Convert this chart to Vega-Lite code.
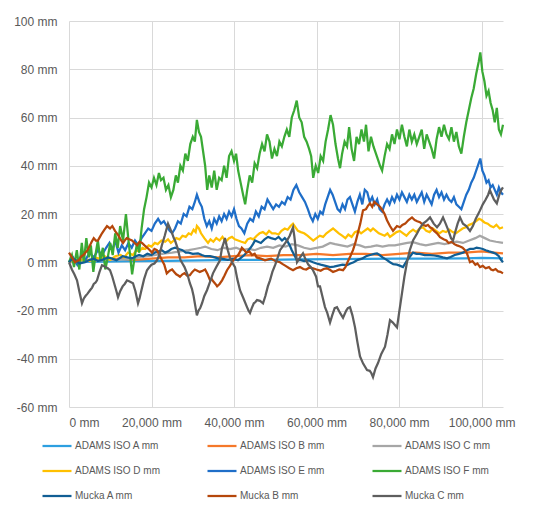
{
  "$schema": "https://vega.github.io/schema/vega-lite/v6.json",
  "width": 434,
  "height": 386,
  "autosize": {"type": "none"},
  "padding": {"left": 69, "top": 21, "right": 47, "bottom": 115},
  "background": "white",
  "config": {
    "view": {"stroke": null},
    "axis": {
      "grid": true,
      "gridColor": "#D9D9D9",
      "gridWidth": 1,
      "domain": false,
      "ticks": false,
      "labelFont": "Liberation Sans",
      "labelFontSize": 12,
      "labelColor": "#595959",
      "title": null
    },
    "line": {"strokeWidth": 2.25}
  },
  "datasets": {
    "isoA": [
      {"x": 0, "y": 0}, {"x": 8000, "y": 0.3}, {"x": 16000, "y": 0.5}, {"x": 24000, "y": 0.6},
      {"x": 32000, "y": 0.8}, {"x": 40000, "y": 1}, {"x": 48000, "y": 1}, {"x": 56000, "y": 1.2},
      {"x": 64000, "y": 1.3}, {"x": 72000, "y": 1.4}, {"x": 80000, "y": 1.5}, {"x": 88000, "y": 1.5},
      {"x": 96000, "y": 1.6}, {"x": 100000, "y": 1.8}, {"x": 105200, "y": 1.6}
    ],
    "isoB": [
      {"x": 0, "y": 0.5}, {"x": 4000, "y": 1}, {"x": 8000, "y": 1}, {"x": 12000, "y": 1.5},
      {"x": 16000, "y": 1}, {"x": 20000, "y": 1.5}, {"x": 24000, "y": 2}, {"x": 28000, "y": 2},
      {"x": 32000, "y": 2.5}, {"x": 36000, "y": 2}, {"x": 40000, "y": 2.5}, {"x": 44000, "y": 3},
      {"x": 48000, "y": 2.5}, {"x": 52000, "y": 3}, {"x": 56000, "y": 3}, {"x": 60000, "y": 3.5},
      {"x": 64000, "y": 3}, {"x": 68000, "y": 3.5}, {"x": 72000, "y": 3.5}, {"x": 76000, "y": 3},
      {"x": 80000, "y": 3.5}, {"x": 84000, "y": 4}, {"x": 88000, "y": 3.5}, {"x": 92000, "y": 4},
      {"x": 96000, "y": 4}, {"x": 100000, "y": 4.5}, {"x": 103000, "y": 4}, {"x": 105200, "y": 3.7}
    ],
    "isoC": [
      {"x": 0, "y": 0}, {"x": 3000, "y": 0.5}, {"x": 6000, "y": 0.5}, {"x": 9000, "y": 1},
      {"x": 12000, "y": 1}, {"x": 15000, "y": 1.5}, {"x": 17000, "y": 2}, {"x": 19000, "y": 2.5},
      {"x": 21000, "y": 3}, {"x": 23300, "y": 3.7}, {"x": 25000, "y": 4}, {"x": 27000, "y": 4.5},
      {"x": 29000, "y": 5}, {"x": 30500, "y": 5.5}, {"x": 32000, "y": 6}, {"x": 33000, "y": 6.5},
      {"x": 34500, "y": 5.5}, {"x": 36000, "y": 5}, {"x": 37500, "y": 6}, {"x": 39000, "y": 5.5},
      {"x": 40500, "y": 6}, {"x": 42000, "y": 5}, {"x": 43500, "y": 5.5}, {"x": 45000, "y": 5},
      {"x": 46500, "y": 6}, {"x": 48000, "y": 6.5}, {"x": 49500, "y": 6}, {"x": 51000, "y": 7},
      {"x": 52500, "y": 6.5}, {"x": 54000, "y": 7.5}, {"x": 55500, "y": 7}, {"x": 57000, "y": 6},
      {"x": 58500, "y": 5.5}, {"x": 60000, "y": 6}, {"x": 61500, "y": 6.5}, {"x": 63300, "y": 8},
      {"x": 64500, "y": 7.5}, {"x": 66000, "y": 7}, {"x": 67500, "y": 6.5}, {"x": 69000, "y": 7.5},
      {"x": 70500, "y": 7}, {"x": 71800, "y": 6.2}, {"x": 73200, "y": 6.5}, {"x": 74600, "y": 7},
      {"x": 76000, "y": 6.5}, {"x": 77500, "y": 7}, {"x": 79000, "y": 7}, {"x": 80500, "y": 7.5},
      {"x": 82000, "y": 8}, {"x": 83400, "y": 8.3}, {"x": 85000, "y": 7.5}, {"x": 86500, "y": 7},
      {"x": 88000, "y": 7.5}, {"x": 89500, "y": 8}, {"x": 91000, "y": 7.5}, {"x": 92500, "y": 8},
      {"x": 94000, "y": 8.5}, {"x": 95500, "y": 8}, {"x": 97000, "y": 9}, {"x": 98500, "y": 10},
      {"x": 99600, "y": 11}, {"x": 100800, "y": 10}, {"x": 102000, "y": 9}, {"x": 103500, "y": 8.5},
      {"x": 105200, "y": 8}
    ],
    "isoD": [
      {"x": 0, "y": 0}, {"x": 1200, "y": 1}, {"x": 2500, "y": 0.5}, {"x": 3700, "y": 1.5},
      {"x": 5000, "y": 0.5}, {"x": 6200, "y": 2}, {"x": 7500, "y": 1.5}, {"x": 8700, "y": 2.5},
      {"x": 10000, "y": 1}, {"x": 11200, "y": 2.5}, {"x": 12500, "y": 3}, {"x": 13400, "y": 2},
      {"x": 14300, "y": 4}, {"x": 15500, "y": 3}, {"x": 16300, "y": 5}, {"x": 17000, "y": 4.5},
      {"x": 17800, "y": 6}, {"x": 18500, "y": 5.5}, {"x": 19300, "y": 7}, {"x": 20000, "y": 6.5},
      {"x": 20800, "y": 8}, {"x": 21500, "y": 7.5}, {"x": 22400, "y": 9}, {"x": 23300, "y": 8.5},
      {"x": 24000, "y": 9.5}, {"x": 24700, "y": 8}, {"x": 25400, "y": 9}, {"x": 26000, "y": 10},
      {"x": 26800, "y": 9.5}, {"x": 27500, "y": 11}, {"x": 28300, "y": 10.5}, {"x": 29000, "y": 12},
      {"x": 29600, "y": 11.5}, {"x": 30200, "y": 13.5}, {"x": 30700, "y": 12.5}, {"x": 31000, "y": 15},
      {"x": 31500, "y": 14}, {"x": 32000, "y": 12}, {"x": 32800, "y": 10}, {"x": 33700, "y": 8},
      {"x": 34300, "y": 9.5}, {"x": 35000, "y": 8.5}, {"x": 35700, "y": 10}, {"x": 36500, "y": 9},
      {"x": 37200, "y": 10.5}, {"x": 38000, "y": 8.5}, {"x": 38800, "y": 10}, {"x": 39500, "y": 10.5},
      {"x": 40200, "y": 9.5}, {"x": 41000, "y": 9}, {"x": 41800, "y": 8.5}, {"x": 42700, "y": 8},
      {"x": 43300, "y": 9.5}, {"x": 44000, "y": 10}, {"x": 44700, "y": 9.5}, {"x": 45500, "y": 11},
      {"x": 46200, "y": 12}, {"x": 47000, "y": 12.5}, {"x": 47800, "y": 11.5}, {"x": 48500, "y": 13},
      {"x": 49200, "y": 12}, {"x": 50000, "y": 12}, {"x": 50800, "y": 11.5}, {"x": 51500, "y": 13},
      {"x": 52300, "y": 14}, {"x": 53000, "y": 13.5}, {"x": 53700, "y": 15}, {"x": 54300, "y": 16},
      {"x": 54900, "y": 14.5}, {"x": 55500, "y": 13}, {"x": 56200, "y": 12.5}, {"x": 57000, "y": 12},
      {"x": 57800, "y": 11}, {"x": 58500, "y": 10}, {"x": 59200, "y": 9}, {"x": 60000, "y": 10},
      {"x": 60800, "y": 11}, {"x": 61600, "y": 10.5}, {"x": 62400, "y": 12}, {"x": 63200, "y": 13},
      {"x": 64000, "y": 14}, {"x": 64700, "y": 13}, {"x": 65400, "y": 12}, {"x": 66200, "y": 11},
      {"x": 67000, "y": 10}, {"x": 67700, "y": 11.5}, {"x": 68500, "y": 10.5}, {"x": 69300, "y": 12.5},
      {"x": 70100, "y": 13}, {"x": 70800, "y": 12}, {"x": 71600, "y": 13}, {"x": 72400, "y": 14},
      {"x": 73100, "y": 13}, {"x": 73700, "y": 14}, {"x": 74400, "y": 13}, {"x": 75100, "y": 12},
      {"x": 75800, "y": 11.5}, {"x": 76500, "y": 11}, {"x": 77200, "y": 12}, {"x": 77800, "y": 10.5},
      {"x": 78600, "y": 11.5}, {"x": 79400, "y": 12.5}, {"x": 80200, "y": 13}, {"x": 81000, "y": 12},
      {"x": 81800, "y": 11}, {"x": 82600, "y": 12.5}, {"x": 83400, "y": 13.5}, {"x": 84200, "y": 12.5},
      {"x": 85000, "y": 14}, {"x": 85800, "y": 14.5}, {"x": 86600, "y": 13}, {"x": 87400, "y": 12.5},
      {"x": 88200, "y": 14}, {"x": 89000, "y": 13}, {"x": 89800, "y": 12}, {"x": 90600, "y": 13},
      {"x": 91400, "y": 12.5}, {"x": 92200, "y": 13.5}, {"x": 93000, "y": 12.5}, {"x": 93800, "y": 12},
      {"x": 94600, "y": 13}, {"x": 95400, "y": 14}, {"x": 96200, "y": 14.5}, {"x": 97000, "y": 15.5},
      {"x": 97800, "y": 16}, {"x": 98600, "y": 17}, {"x": 99400, "y": 18}, {"x": 100000, "y": 17.5},
      {"x": 100700, "y": 16.5}, {"x": 101500, "y": 16}, {"x": 102200, "y": 15}, {"x": 102900, "y": 14.5},
      {"x": 103600, "y": 15.5}, {"x": 104400, "y": 14}, {"x": 105200, "y": 14.5}
    ],
    "isoE": [
      {"x": 0, "y": 0}, {"x": 1000, "y": 2}, {"x": 2000, "y": -1}, {"x": 3000, "y": 3},
      {"x": 4000, "y": 1}, {"x": 5000, "y": 4}, {"x": 6000, "y": 2}, {"x": 7000, "y": 5},
      {"x": 8000, "y": 3}, {"x": 9000, "y": 6}, {"x": 9800, "y": 8}, {"x": 10500, "y": 5},
      {"x": 11200, "y": 9}, {"x": 12000, "y": 4}, {"x": 12800, "y": 7}, {"x": 13600, "y": 5},
      {"x": 14400, "y": 8}, {"x": 15200, "y": 6}, {"x": 16000, "y": 9}, {"x": 16800, "y": 7},
      {"x": 17600, "y": 10}, {"x": 18400, "y": 12}, {"x": 19200, "y": 14}, {"x": 20000, "y": 13},
      {"x": 20800, "y": 16}, {"x": 21600, "y": 18}, {"x": 22300, "y": 16}, {"x": 23000, "y": 17},
      {"x": 23700, "y": 15}, {"x": 24400, "y": 13}, {"x": 25000, "y": 12}, {"x": 25700, "y": 14},
      {"x": 26400, "y": 17}, {"x": 27100, "y": 16}, {"x": 27800, "y": 20}, {"x": 28500, "y": 19},
      {"x": 29200, "y": 23}, {"x": 29900, "y": 22}, {"x": 30500, "y": 25}, {"x": 31000, "y": 28},
      {"x": 31600, "y": 25}, {"x": 32200, "y": 23}, {"x": 32800, "y": 18}, {"x": 33400, "y": 15},
      {"x": 34000, "y": 17}, {"x": 34600, "y": 14}, {"x": 35200, "y": 18}, {"x": 35800, "y": 16},
      {"x": 36400, "y": 19}, {"x": 37000, "y": 17}, {"x": 37600, "y": 20}, {"x": 38200, "y": 18},
      {"x": 38800, "y": 21}, {"x": 39400, "y": 19}, {"x": 40000, "y": 22}, {"x": 40600, "y": 18},
      {"x": 41200, "y": 15}, {"x": 41800, "y": 14}, {"x": 42500, "y": 12}, {"x": 43200, "y": 16},
      {"x": 43900, "y": 18}, {"x": 44600, "y": 17}, {"x": 45300, "y": 21}, {"x": 46000, "y": 19},
      {"x": 46700, "y": 23}, {"x": 47400, "y": 22}, {"x": 48100, "y": 26}, {"x": 48800, "y": 24},
      {"x": 49500, "y": 22}, {"x": 50200, "y": 24}, {"x": 50900, "y": 23}, {"x": 51600, "y": 25},
      {"x": 52300, "y": 24}, {"x": 53000, "y": 27}, {"x": 53700, "y": 26}, {"x": 54400, "y": 30},
      {"x": 55100, "y": 32}, {"x": 55800, "y": 29}, {"x": 56500, "y": 27}, {"x": 57200, "y": 25},
      {"x": 57900, "y": 22}, {"x": 58500, "y": 19}, {"x": 59100, "y": 17}, {"x": 59700, "y": 20},
      {"x": 60300, "y": 18}, {"x": 60900, "y": 21}, {"x": 61500, "y": 20}, {"x": 62100, "y": 24},
      {"x": 62700, "y": 27}, {"x": 63300, "y": 30}, {"x": 63900, "y": 28}, {"x": 64500, "y": 25},
      {"x": 65100, "y": 22}, {"x": 65700, "y": 21}, {"x": 66300, "y": 24}, {"x": 66900, "y": 22},
      {"x": 67500, "y": 26}, {"x": 68100, "y": 27}, {"x": 68700, "y": 24}, {"x": 69300, "y": 21},
      {"x": 69900, "y": 25}, {"x": 70500, "y": 28}, {"x": 71100, "y": 24}, {"x": 71700, "y": 30},
      {"x": 72300, "y": 29}, {"x": 72900, "y": 25}, {"x": 73500, "y": 27}, {"x": 74100, "y": 24},
      {"x": 74700, "y": 26}, {"x": 75300, "y": 22}, {"x": 75900, "y": 21}, {"x": 76500, "y": 24},
      {"x": 77100, "y": 26}, {"x": 77700, "y": 24}, {"x": 78300, "y": 27}, {"x": 78900, "y": 25},
      {"x": 79500, "y": 28}, {"x": 80100, "y": 26}, {"x": 80700, "y": 29}, {"x": 81300, "y": 27},
      {"x": 81900, "y": 25}, {"x": 82500, "y": 28}, {"x": 83100, "y": 26}, {"x": 83700, "y": 28},
      {"x": 84300, "y": 25}, {"x": 84900, "y": 27}, {"x": 85500, "y": 29}, {"x": 86100, "y": 25},
      {"x": 86700, "y": 28}, {"x": 87300, "y": 26}, {"x": 87900, "y": 24}, {"x": 88500, "y": 28},
      {"x": 89100, "y": 30}, {"x": 89700, "y": 27}, {"x": 90300, "y": 29}, {"x": 90900, "y": 26},
      {"x": 91500, "y": 28}, {"x": 92100, "y": 26}, {"x": 92700, "y": 25}, {"x": 93300, "y": 27},
      {"x": 93900, "y": 24}, {"x": 94500, "y": 23}, {"x": 95100, "y": 22}, {"x": 95700, "y": 25},
      {"x": 96300, "y": 28}, {"x": 96900, "y": 30}, {"x": 97500, "y": 33}, {"x": 98100, "y": 35},
      {"x": 98700, "y": 38}, {"x": 99300, "y": 41}, {"x": 99700, "y": 43}, {"x": 100200, "y": 38},
      {"x": 100700, "y": 36}, {"x": 101200, "y": 33}, {"x": 101700, "y": 34}, {"x": 102200, "y": 31},
      {"x": 102700, "y": 32}, {"x": 103200, "y": 30}, {"x": 103700, "y": 28}, {"x": 104200, "y": 31},
      {"x": 104700, "y": 29}, {"x": 105200, "y": 28}
    ],
    "isoF": [
      {"x": 0, "y": 0}, {"x": 700, "y": 3}, {"x": 1200, "y": -2}, {"x": 1900, "y": 5},
      {"x": 2500, "y": -3}, {"x": 3100, "y": 8}, {"x": 3600, "y": 0}, {"x": 4200, "y": 10},
      {"x": 4800, "y": 2}, {"x": 5300, "y": 7}, {"x": 5900, "y": -4}, {"x": 6500, "y": 4},
      {"x": 7000, "y": 9}, {"x": 7600, "y": 1}, {"x": 8200, "y": 6}, {"x": 8800, "y": -3},
      {"x": 9400, "y": 2}, {"x": 10000, "y": 8}, {"x": 10600, "y": 3}, {"x": 11200, "y": 12},
      {"x": 11800, "y": 6}, {"x": 12400, "y": 15}, {"x": 13100, "y": 9}, {"x": 13800, "y": 20},
      {"x": 14300, "y": 11}, {"x": 14800, "y": 3}, {"x": 15300, "y": -5}, {"x": 15900, "y": 2},
      {"x": 16500, "y": 8}, {"x": 17000, "y": 4}, {"x": 17600, "y": 14}, {"x": 18200, "y": 22},
      {"x": 18800, "y": 27}, {"x": 19400, "y": 33}, {"x": 20000, "y": 31}, {"x": 20600, "y": 35},
      {"x": 21200, "y": 32}, {"x": 21800, "y": 37}, {"x": 22300, "y": 34}, {"x": 22900, "y": 35},
      {"x": 23500, "y": 30}, {"x": 24100, "y": 32}, {"x": 24700, "y": 27}, {"x": 25300, "y": 30},
      {"x": 25900, "y": 36}, {"x": 26400, "y": 33}, {"x": 27000, "y": 40}, {"x": 27600, "y": 38},
      {"x": 28200, "y": 45}, {"x": 28800, "y": 42}, {"x": 29400, "y": 49}, {"x": 30000, "y": 52},
      {"x": 30500, "y": 50}, {"x": 31000, "y": 59}, {"x": 31500, "y": 54}, {"x": 32000, "y": 52},
      {"x": 32500, "y": 46}, {"x": 33000, "y": 40}, {"x": 33500, "y": 30}, {"x": 34000, "y": 36},
      {"x": 34600, "y": 31}, {"x": 35200, "y": 38}, {"x": 35800, "y": 30}, {"x": 36400, "y": 35},
      {"x": 37000, "y": 34}, {"x": 37600, "y": 40}, {"x": 38200, "y": 35}, {"x": 38800, "y": 44},
      {"x": 39400, "y": 46}, {"x": 40000, "y": 42}, {"x": 40500, "y": 45}, {"x": 41000, "y": 38},
      {"x": 41600, "y": 33}, {"x": 42200, "y": 28}, {"x": 42700, "y": 24}, {"x": 43200, "y": 30},
      {"x": 43800, "y": 36}, {"x": 44400, "y": 33}, {"x": 45000, "y": 41}, {"x": 45600, "y": 39},
      {"x": 46200, "y": 45}, {"x": 46800, "y": 49}, {"x": 47400, "y": 46}, {"x": 48000, "y": 53},
      {"x": 48600, "y": 50}, {"x": 49200, "y": 43}, {"x": 49800, "y": 47}, {"x": 50400, "y": 44},
      {"x": 51000, "y": 50}, {"x": 51600, "y": 48}, {"x": 52200, "y": 52}, {"x": 52800, "y": 55},
      {"x": 53400, "y": 52}, {"x": 54000, "y": 60}, {"x": 54600, "y": 63}, {"x": 55200, "y": 67},
      {"x": 55800, "y": 60}, {"x": 56400, "y": 58}, {"x": 57000, "y": 52}, {"x": 57600, "y": 50},
      {"x": 58200, "y": 47}, {"x": 58700, "y": 44}, {"x": 59200, "y": 35}, {"x": 59800, "y": 40},
      {"x": 60400, "y": 37}, {"x": 61000, "y": 44}, {"x": 61600, "y": 42}, {"x": 62200, "y": 50},
      {"x": 62800, "y": 55}, {"x": 63400, "y": 61}, {"x": 64000, "y": 57}, {"x": 64600, "y": 49},
      {"x": 65200, "y": 43}, {"x": 65700, "y": 39}, {"x": 66200, "y": 45}, {"x": 66800, "y": 50},
      {"x": 67400, "y": 48}, {"x": 67900, "y": 56}, {"x": 68500, "y": 47}, {"x": 69100, "y": 42},
      {"x": 69700, "y": 52}, {"x": 70300, "y": 49}, {"x": 70900, "y": 55}, {"x": 71500, "y": 50},
      {"x": 72000, "y": 57}, {"x": 72600, "y": 46}, {"x": 73200, "y": 52}, {"x": 73800, "y": 48},
      {"x": 74400, "y": 45}, {"x": 75000, "y": 42}, {"x": 75400, "y": 40}, {"x": 75900, "y": 38},
      {"x": 76500, "y": 44}, {"x": 77100, "y": 49}, {"x": 77700, "y": 47}, {"x": 78300, "y": 53},
      {"x": 78900, "y": 49}, {"x": 79500, "y": 55}, {"x": 80100, "y": 51}, {"x": 80700, "y": 57},
      {"x": 81300, "y": 52}, {"x": 81900, "y": 48}, {"x": 82500, "y": 55}, {"x": 83100, "y": 50},
      {"x": 83700, "y": 53}, {"x": 84300, "y": 49}, {"x": 84900, "y": 52}, {"x": 85500, "y": 55},
      {"x": 86100, "y": 47}, {"x": 86700, "y": 53}, {"x": 87300, "y": 50}, {"x": 87900, "y": 47},
      {"x": 88500, "y": 43}, {"x": 89100, "y": 51}, {"x": 89700, "y": 56}, {"x": 90300, "y": 52},
      {"x": 90900, "y": 57}, {"x": 91500, "y": 53}, {"x": 92100, "y": 51}, {"x": 92700, "y": 56},
      {"x": 93300, "y": 50}, {"x": 93900, "y": 54}, {"x": 94500, "y": 48}, {"x": 95100, "y": 45},
      {"x": 95700, "y": 52}, {"x": 96300, "y": 58}, {"x": 96900, "y": 63}, {"x": 97500, "y": 68},
      {"x": 98100, "y": 72}, {"x": 98700, "y": 78}, {"x": 99300, "y": 83}, {"x": 99700, "y": 87},
      {"x": 100200, "y": 79}, {"x": 100700, "y": 75}, {"x": 101200, "y": 69}, {"x": 101700, "y": 71},
      {"x": 102200, "y": 66}, {"x": 102700, "y": 63}, {"x": 103200, "y": 58}, {"x": 103700, "y": 64},
      {"x": 104200, "y": 55}, {"x": 104700, "y": 53}, {"x": 105200, "y": 57}
    ],
    "muckaA": [
      {"x": 0, "y": 0}, {"x": 800, "y": 1.5}, {"x": 1500, "y": 1}, {"x": 2500, "y": -0.5},
      {"x": 3900, "y": 0}, {"x": 5000, "y": 1}, {"x": 6000, "y": 1.5}, {"x": 7000, "y": 0.5},
      {"x": 8000, "y": 1}, {"x": 9450, "y": 2}, {"x": 10500, "y": 1.5}, {"x": 11500, "y": 0.8},
      {"x": 13000, "y": 2.5}, {"x": 14200, "y": 2}, {"x": 15270, "y": 1.6}, {"x": 16200, "y": 2.5},
      {"x": 17000, "y": 3}, {"x": 18000, "y": 2.5}, {"x": 19000, "y": 3.5}, {"x": 20000, "y": 3},
      {"x": 20800, "y": 4}, {"x": 21700, "y": 4.5}, {"x": 22500, "y": 5}, {"x": 23300, "y": 4},
      {"x": 24000, "y": 4.5}, {"x": 24800, "y": 5.5}, {"x": 25700, "y": 6}, {"x": 26600, "y": 5.5},
      {"x": 27500, "y": 5}, {"x": 28300, "y": 4}, {"x": 29000, "y": 4}, {"x": 30000, "y": 3.5},
      {"x": 31270, "y": 3.7}, {"x": 32200, "y": 3}, {"x": 33000, "y": 2.5}, {"x": 34200, "y": 2.5},
      {"x": 35390, "y": 2}, {"x": 36200, "y": 1.5}, {"x": 37000, "y": 1.5}, {"x": 38500, "y": 1},
      {"x": 39800, "y": 1.5}, {"x": 40970, "y": 0.8}, {"x": 41800, "y": 2}, {"x": 42500, "y": 3},
      {"x": 43300, "y": 4.5}, {"x": 44000, "y": 6}, {"x": 44600, "y": 7.5}, {"x": 45090, "y": 9},
      {"x": 45800, "y": 8.5}, {"x": 46500, "y": 8}, {"x": 47400, "y": 9.5}, {"x": 48240, "y": 10.5},
      {"x": 49000, "y": 10}, {"x": 50000, "y": 9.5}, {"x": 50800, "y": 10.5}, {"x": 51630, "y": 9},
      {"x": 52300, "y": 10}, {"x": 52840, "y": 9}, {"x": 53500, "y": 7}, {"x": 54000, "y": 5},
      {"x": 54600, "y": 3}, {"x": 55270, "y": 0.8}, {"x": 56000, "y": 1}, {"x": 57000, "y": 0.5},
      {"x": 58000, "y": 0.8}, {"x": 59150, "y": 0}, {"x": 60000, "y": -0.5}, {"x": 61000, "y": -1},
      {"x": 62200, "y": -1.5}, {"x": 63270, "y": -2}, {"x": 64200, "y": -1.8}, {"x": 65000, "y": -1.5},
      {"x": 66300, "y": -1}, {"x": 67390, "y": -1.2}, {"x": 68200, "y": -0.5}, {"x": 69000, "y": 0},
      {"x": 70000, "y": 1}, {"x": 71000, "y": 1.5}, {"x": 72000, "y": 2.5}, {"x": 73000, "y": 3},
      {"x": 74000, "y": 3.5}, {"x": 74660, "y": 3.7}, {"x": 75300, "y": 3}, {"x": 76000, "y": 2},
      {"x": 77000, "y": 1}, {"x": 77810, "y": 0}, {"x": 78600, "y": -0.8}, {"x": 79500, "y": -1},
      {"x": 80300, "y": -1.5}, {"x": 80960, "y": -2}, {"x": 81500, "y": -0.5}, {"x": 82000, "y": 1},
      {"x": 82700, "y": 2.5}, {"x": 83390, "y": 4}, {"x": 84200, "y": 3.5}, {"x": 85000, "y": 3.5},
      {"x": 86200, "y": 3}, {"x": 87510, "y": 3}, {"x": 88500, "y": 2.8}, {"x": 89500, "y": 2.5},
      {"x": 90600, "y": 2}, {"x": 91630, "y": 1.6}, {"x": 92500, "y": 2.2}, {"x": 93500, "y": 3},
      {"x": 94500, "y": 3.5}, {"x": 95500, "y": 4}, {"x": 96480, "y": 5}, {"x": 97200, "y": 5.5},
      {"x": 98000, "y": 5.5}, {"x": 98800, "y": 6}, {"x": 99630, "y": 5.8}, {"x": 100300, "y": 5.5},
      {"x": 101000, "y": 5}, {"x": 101800, "y": 4.5}, {"x": 102800, "y": 4}, {"x": 103500, "y": 3.5},
      {"x": 104200, "y": 2.5}, {"x": 104700, "y": 1}, {"x": 105200, "y": 0}
    ],
    "muckaB": [
      {"x": 0, "y": 4}, {"x": 700, "y": 2}, {"x": 1450, "y": 0}, {"x": 2000, "y": 0.5},
      {"x": 2500, "y": 1}, {"x": 3000, "y": 2.5}, {"x": 3500, "y": 3}, {"x": 4000, "y": 4},
      {"x": 4500, "y": 5}, {"x": 5090, "y": 7}, {"x": 5500, "y": 8.5}, {"x": 6000, "y": 10},
      {"x": 6500, "y": 9}, {"x": 7000, "y": 9}, {"x": 7500, "y": 10.5}, {"x": 8000, "y": 12},
      {"x": 8600, "y": 13.5}, {"x": 9210, "y": 15}, {"x": 9940, "y": 14}, {"x": 10500, "y": 15},
      {"x": 11150, "y": 13}, {"x": 11600, "y": 12}, {"x": 12000, "y": 11}, {"x": 12500, "y": 9.5},
      {"x": 13090, "y": 8}, {"x": 13500, "y": 9}, {"x": 14000, "y": 10}, {"x": 14600, "y": 9.5},
      {"x": 15270, "y": 9}, {"x": 15900, "y": 8}, {"x": 16500, "y": 7}, {"x": 17100, "y": 8.5},
      {"x": 17700, "y": 8}, {"x": 18300, "y": 7}, {"x": 19000, "y": 6}, {"x": 19600, "y": 5},
      {"x": 20120, "y": 4}, {"x": 20700, "y": 5.5}, {"x": 21300, "y": 5}, {"x": 21900, "y": 3},
      {"x": 22540, "y": 0.8}, {"x": 23100, "y": -1}, {"x": 23700, "y": -4.6}, {"x": 24400, "y": -3.5},
      {"x": 25000, "y": -3}, {"x": 25500, "y": -4}, {"x": 26000, "y": -5}, {"x": 26500, "y": -5.5},
      {"x": 26900, "y": -6}, {"x": 27500, "y": -5}, {"x": 28000, "y": -4.5}, {"x": 28600, "y": -5.5},
      {"x": 29300, "y": -5.4}, {"x": 29900, "y": -4}, {"x": 30500, "y": -3}, {"x": 31100, "y": -3.5},
      {"x": 31700, "y": -4}, {"x": 32400, "y": -3.5}, {"x": 33000, "y": -3}, {"x": 33600, "y": -5},
      {"x": 34200, "y": -7.5}, {"x": 34600, "y": -7}, {"x": 35000, "y": -8}, {"x": 35500, "y": -9},
      {"x": 35900, "y": -10}, {"x": 36500, "y": -9}, {"x": 37100, "y": -7.5}, {"x": 37700, "y": -5.5},
      {"x": 38300, "y": -3.3}, {"x": 39000, "y": -1.5}, {"x": 39800, "y": 0.8}, {"x": 40400, "y": 2},
      {"x": 41000, "y": 3}, {"x": 41500, "y": 4.5}, {"x": 41900, "y": 6}, {"x": 42500, "y": 5},
      {"x": 43000, "y": 4}, {"x": 43700, "y": 4.5}, {"x": 44360, "y": 3}, {"x": 45000, "y": 3.5},
      {"x": 45500, "y": 2}, {"x": 46500, "y": 1.5}, {"x": 47510, "y": 0.8}, {"x": 48300, "y": 1.2},
      {"x": 49000, "y": 1.5}, {"x": 50000, "y": 0.5}, {"x": 51150, "y": 0}, {"x": 51800, "y": -0.8},
      {"x": 52500, "y": -1.5}, {"x": 53400, "y": -2.5}, {"x": 54300, "y": -3.3}, {"x": 55100, "y": -2.5},
      {"x": 56000, "y": -2}, {"x": 56800, "y": -2.8}, {"x": 57500, "y": -3}, {"x": 58300, "y": -2.2},
      {"x": 59150, "y": -2.5}, {"x": 60000, "y": -3}, {"x": 61000, "y": -3.5}, {"x": 61700, "y": -2.8},
      {"x": 62500, "y": -2.5}, {"x": 63300, "y": -3.2}, {"x": 64000, "y": -4}, {"x": 64800, "y": -3.5},
      {"x": 65500, "y": -3}, {"x": 66420, "y": -3.3}, {"x": 67000, "y": -2}, {"x": 67500, "y": 0},
      {"x": 68200, "y": 2.5}, {"x": 68840, "y": 5}, {"x": 69400, "y": 8}, {"x": 70000, "y": 12},
      {"x": 70600, "y": 16}, {"x": 71270, "y": 21.5}, {"x": 72000, "y": 22}, {"x": 72500, "y": 23.5},
      {"x": 72960, "y": 24.4}, {"x": 73500, "y": 23}, {"x": 74000, "y": 25}, {"x": 74700, "y": 24},
      {"x": 75390, "y": 23}, {"x": 76000, "y": 21.5}, {"x": 76500, "y": 20}, {"x": 77080, "y": 17.4},
      {"x": 77800, "y": 15}, {"x": 78540, "y": 13}, {"x": 79000, "y": 14}, {"x": 79500, "y": 15},
      {"x": 80230, "y": 14.5}, {"x": 80800, "y": 15.5}, {"x": 81500, "y": 16}, {"x": 82300, "y": 17.5},
      {"x": 83140, "y": 18.6}, {"x": 83800, "y": 17.5}, {"x": 84400, "y": 17}, {"x": 85080, "y": 16.6},
      {"x": 85800, "y": 15.5}, {"x": 86500, "y": 15}, {"x": 87000, "y": 15.5}, {"x": 87510, "y": 14.5},
      {"x": 88000, "y": 14}, {"x": 88500, "y": 13}, {"x": 89200, "y": 12}, {"x": 89930, "y": 10.4},
      {"x": 90800, "y": 9.5}, {"x": 91500, "y": 9}, {"x": 92000, "y": 8}, {"x": 92800, "y": 8.5},
      {"x": 93400, "y": 7.5}, {"x": 94050, "y": 7}, {"x": 94800, "y": 6.5}, {"x": 95400, "y": 6},
      {"x": 95990, "y": 5}, {"x": 96500, "y": 3.5}, {"x": 96800, "y": 2}, {"x": 97200, "y": 0},
      {"x": 97800, "y": 0.5}, {"x": 98500, "y": -1}, {"x": 99000, "y": -0.5}, {"x": 99630, "y": -2},
      {"x": 100300, "y": -1.5}, {"x": 101000, "y": -2.5}, {"x": 101800, "y": -2}, {"x": 102300, "y": -3},
      {"x": 102800, "y": -3.3}, {"x": 103400, "y": -2.8}, {"x": 104000, "y": -3.8}, {"x": 104600, "y": -4},
      {"x": 105200, "y": -4.6}
    ],
    "muckaC": [
      {"x": 0, "y": 0}, {"x": 700, "y": -3}, {"x": 1300, "y": -5}, {"x": 1940, "y": -7.5},
      {"x": 2500, "y": -12}, {"x": 3150, "y": -17}, {"x": 3600, "y": -15}, {"x": 4000, "y": -14},
      {"x": 4500, "y": -13}, {"x": 5090, "y": -11.6}, {"x": 5600, "y": -10.5}, {"x": 6000, "y": -9},
      {"x": 6400, "y": -8.5}, {"x": 6790, "y": -7.5}, {"x": 7400, "y": -4}, {"x": 8000, "y": -1.2},
      {"x": 8400, "y": -1.5}, {"x": 8800, "y": -2}, {"x": 9400, "y": -2.5}, {"x": 9940, "y": -3.3},
      {"x": 10500, "y": -6}, {"x": 11000, "y": -9}, {"x": 11500, "y": -12}, {"x": 11880, "y": -14.5},
      {"x": 12400, "y": -12}, {"x": 13000, "y": -10}, {"x": 13500, "y": -9}, {"x": 14060, "y": -7.5},
      {"x": 14700, "y": -8}, {"x": 15510, "y": -8.7}, {"x": 16100, "y": -12}, {"x": 16730, "y": -17},
      {"x": 17100, "y": -15}, {"x": 17500, "y": -12}, {"x": 18200, "y": -7}, {"x": 18900, "y": -3.3},
      {"x": 19500, "y": -2}, {"x": 20000, "y": -1}, {"x": 20700, "y": -0.5}, {"x": 21330, "y": 0.8},
      {"x": 22000, "y": 3.5}, {"x": 22500, "y": 7}, {"x": 23200, "y": 11}, {"x": 24000, "y": 16},
      {"x": 24500, "y": 14}, {"x": 25000, "y": 12}, {"x": 25400, "y": 10}, {"x": 25700, "y": 9},
      {"x": 26300, "y": 6}, {"x": 27000, "y": 1}, {"x": 27500, "y": -0.5}, {"x": 28000, "y": -2},
      {"x": 28700, "y": -5}, {"x": 29300, "y": -8.7}, {"x": 29800, "y": -11}, {"x": 30200, "y": -14},
      {"x": 30600, "y": -18}, {"x": 31000, "y": -22}, {"x": 31400, "y": -20}, {"x": 31800, "y": -19},
      {"x": 32240, "y": -17}, {"x": 32800, "y": -14}, {"x": 33450, "y": -11.6}, {"x": 34200, "y": -8},
      {"x": 34900, "y": -4.6}, {"x": 35700, "y": -2}, {"x": 36600, "y": 0.8}, {"x": 37090, "y": 6},
      {"x": 37500, "y": 8}, {"x": 37800, "y": 10}, {"x": 38200, "y": 7}, {"x": 38500, "y": 5},
      {"x": 39000, "y": 2}, {"x": 39510, "y": 0}, {"x": 40240, "y": -2}, {"x": 40800, "y": -7},
      {"x": 41450, "y": -11.6}, {"x": 42300, "y": -15}, {"x": 43150, "y": -18.6}, {"x": 43500, "y": -20},
      {"x": 43870, "y": -21}, {"x": 44300, "y": -19}, {"x": 44800, "y": -17}, {"x": 45200, "y": -16.5},
      {"x": 45570, "y": -15.7}, {"x": 46300, "y": -16}, {"x": 47030, "y": -17}, {"x": 47600, "y": -14},
      {"x": 48200, "y": -10}, {"x": 48720, "y": -7.5}, {"x": 49300, "y": -4}, {"x": 50000, "y": -1},
      {"x": 50600, "y": 2}, {"x": 51150, "y": 5}, {"x": 52000, "y": 7}, {"x": 52840, "y": 9},
      {"x": 53500, "y": 11}, {"x": 54300, "y": 14.5}, {"x": 54600, "y": 11}, {"x": 54800, "y": 8},
      {"x": 55000, "y": 4}, {"x": 55270, "y": 0}, {"x": 56000, "y": 2}, {"x": 56720, "y": 3.7},
      {"x": 57400, "y": 1}, {"x": 58000, "y": -1}, {"x": 58600, "y": -2}, {"x": 59150, "y": -3.3},
      {"x": 59900, "y": -6}, {"x": 60360, "y": -10}, {"x": 60840, "y": -10}, {"x": 61400, "y": -14},
      {"x": 62050, "y": -18.6}, {"x": 62600, "y": -21}, {"x": 63270, "y": -25}, {"x": 63800, "y": -22},
      {"x": 64400, "y": -19}, {"x": 64960, "y": -18.6}, {"x": 65700, "y": -21}, {"x": 66420, "y": -23},
      {"x": 67200, "y": -20}, {"x": 67600, "y": -19}, {"x": 68110, "y": -18.6}, {"x": 68700, "y": -22},
      {"x": 69330, "y": -27}, {"x": 69900, "y": -33}, {"x": 70540, "y": -39}, {"x": 71300, "y": -42},
      {"x": 72240, "y": -44.7}, {"x": 72900, "y": -45}, {"x": 73300, "y": -46}, {"x": 73690, "y": -47.6},
      {"x": 74300, "y": -44}, {"x": 74900, "y": -41.8}, {"x": 75700, "y": -38}, {"x": 76600, "y": -35},
      {"x": 77200, "y": -30}, {"x": 77810, "y": -24}, {"x": 78500, "y": -25}, {"x": 79000, "y": -26},
      {"x": 79510, "y": -27}, {"x": 80100, "y": -20}, {"x": 80720, "y": -12.8}, {"x": 81300, "y": -6},
      {"x": 81930, "y": 0}, {"x": 82600, "y": 5}, {"x": 83390, "y": 9}, {"x": 84400, "y": 12},
      {"x": 85000, "y": 14}, {"x": 85810, "y": 16}, {"x": 86600, "y": 17}, {"x": 87510, "y": 18.6},
      {"x": 88400, "y": 16}, {"x": 89200, "y": 14.5}, {"x": 89900, "y": 16}, {"x": 90660, "y": 18.6},
      {"x": 91300, "y": 16}, {"x": 92000, "y": 13}, {"x": 92600, "y": 10}, {"x": 93080, "y": 9},
      {"x": 93700, "y": 13}, {"x": 94200, "y": 16}, {"x": 94780, "y": 18.6}, {"x": 95500, "y": 16},
      {"x": 96300, "y": 15}, {"x": 97200, "y": 13}, {"x": 97900, "y": 15}, {"x": 98600, "y": 18},
      {"x": 99200, "y": 20}, {"x": 99630, "y": 21.5}, {"x": 100300, "y": 24}, {"x": 101000, "y": 26},
      {"x": 101600, "y": 28}, {"x": 102000, "y": 30}, {"x": 102500, "y": 28}, {"x": 103000, "y": 26},
      {"x": 103700, "y": 24.4}, {"x": 104300, "y": 28}, {"x": 104800, "y": 30}, {"x": 105200, "y": 31}
    ]
  },
  "encoding": {
    "x": {
      "field": "x",
      "type": "quantitative",
      "scale": {"domain": [0, 105200], "nice": false, "zero": false},
      "axis": {
        "values": [0, 20000, 40000, 60000, 80000, 100000],
        "labelExpr": "format(datum.value, ',') + ' mm'",
        "labelPadding": 10
      }
    },
    "y": {
      "field": "y",
      "type": "quantitative",
      "scale": {"domain": [-60, 100], "nice": false},
      "axis": {
        "values": [-60, -40, -20, 0, 20, 40, 60, 80, 100],
        "labelExpr": "datum.value + ' mm'",
        "labelPadding": 12
      }
    }
  },
  "layer": [
    {
      "data": {"name": "isoA"},
      "mark": "line",
      "encoding": {
        "color": {
          "datum": "ADAMS ISO A mm",
          "scale": {
            "domain": ["ADAMS ISO A mm", "ADAMS ISO B mm", "ADAMS ISO C mm", "ADAMS ISO D mm", "ADAMS ISO E mm", "ADAMS ISO F mm", "Mucka A mm", "Mucka B mm", "Mucka C mm"],
            "range": ["#2D9FE0", "#F5782A", "#A6A6A6", "#FFC000", "#1F6EC8", "#3AAA35", "#115E94", "#B5470B", "#5E5E5E"]
          },
          "legend": {
            "title": null,
            "orient": "none",
            "direction": "horizontal",
            "legendX": -28,
            "legendY": 409,
            "columns": 3,
            "gridAlign": "all",
            "columnPadding": 42,
            "rowPadding": 4,
            "symbolType": "stroke",
            "symbolSize": 841,
            "symbolStrokeWidth": 2.25,
            "labelFont": "Liberation Sans",
            "labelFontSize": 10,
            "labelColor": "#595959",
            "labelOffset": 2,
            "padding": 0
          }
        }
      }
    },
    {"data": {"name": "isoB"}, "mark": "line", "encoding": {"color": {"datum": "ADAMS ISO B mm"}}},
    {"data": {"name": "isoC"}, "mark": "line", "encoding": {"color": {"datum": "ADAMS ISO C mm"}}},
    {"data": {"name": "isoD"}, "mark": "line", "encoding": {"color": {"datum": "ADAMS ISO D mm"}}},
    {"data": {"name": "isoE"}, "mark": "line", "encoding": {"color": {"datum": "ADAMS ISO E mm"}}},
    {"data": {"name": "isoF"}, "mark": "line", "encoding": {"color": {"datum": "ADAMS ISO F mm"}}},
    {"data": {"name": "muckaA"}, "mark": "line", "encoding": {"color": {"datum": "Mucka A mm"}}},
    {"data": {"name": "muckaB"}, "mark": "line", "encoding": {"color": {"datum": "Mucka B mm"}}},
    {"data": {"name": "muckaC"}, "mark": "line", "encoding": {"color": {"datum": "Mucka C mm"}}}
  ]
}
